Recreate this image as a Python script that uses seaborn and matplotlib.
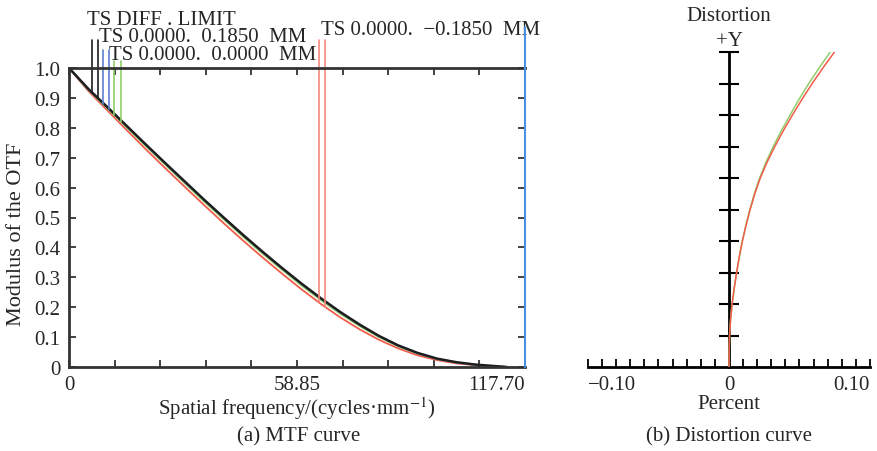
import numpy as np
import pandas as pd
import matplotlib
matplotlib.use("Agg")
import matplotlib.pyplot as plt
import seaborn as sns

# --- MTF data ---
freq = [0, 5, 10, 15, 20, 25, 30, 35, 40, 45, 50, 55, 60, 65, 70, 75, 80, 85, 90, 95, 100, 105, 110, 113]
mtf_diff = [1.0, .930, .868, .805, .742, .680, .619, .558, .499, .441, .385, .331, .279, .230, .184,
            .142, .104, .072, .047, .028, .016, .008, .003, 0]
mtf_blue = [1.0, .929, .867, .804, .741, .679, .618, .557, .498, .440, .384, .330, .278, .229, .183,
            .141, .103, .071, .046, .027, .015, .007, .002, 0]
mtf_green = [1.0, .927, .864, .800, .737, .675, .613, .552, .493, .435, .379, .325, .273, .224, .178,
             .137, .100, .069, .045, .027, .015, .007, .002, 0]
mtf_red = [1.0, .923, .857, .791, .726, .663, .601, .540, .480, .422, .366, .312, .260, .211, .166,
           .126, .091, .062, .039, .023, .012, .006, .002, 0]

x_max = 117.70
xtick_labels = ["0", "58.85", "117.70"]
ytick_labels = ["0", "0.1", "0.2", "0.3", "0.4", "0.5", "0.6", "0.7", "0.8", "0.9", "1.0"]

# label leaders (x position in cycles/mm)
leader_black = [6.0, 7.5]
leader_blue = [8.9, 10.4]
leader_green = [11.7, 13.4]
leader_red = [64.5, 66.1]

# --- Distortion data ---
field = [0, .05, .1, .15, .2, .25, .3, .35, .4, .45, .5, .55, .6, .65, .7, .75, .8, .85, .9, .95, 1.0]
dist_red = [0, .0001, .0004, .0011, .0022, .0037, .0054, .0073, .0095, .0121, .0150, .0183, .0222,
            .0270, .0325, .0385, .0450, .0518, .0590, .0667, .0748]
dist_green = [0, .0001, .0004, .0011, .0022, .0037, .0054, .0073, .0095, .0120, .0148, .0180, .0217,
              .0262, .0314, .0371, .0433, .0497, .0566, .0640, .0718]

sns.set_theme(style="white")
plt.rcParams['font.family'] = ['Liberation Serif', 'DejaVu Serif']
plt.rcParams['mathtext.fontset'] = 'stix'

col_black = '#1e1e1e'
col_blue = '#5b7fd0'
col_green = '#8fcf6a'
col_red = '#f25c4a'
col_lead_red = '#f58a7c'
fs = 15

fig = plt.figure(figsize=(8.78, 4.52), dpi=100)
ax1 = fig.add_axes([69/878, 84/452, 456/878, 299/452])
ax2 = fig.add_axes([588/878, 84/452, 282/878, 315/452])

#%% --- MTF panel ---
df = pd.DataFrame({"freq": freq, "diff": mtf_diff, "blue": mtf_blue,
                   "green": mtf_green, "red": mtf_red})
sns.lineplot(data=df, x="freq", y="red", color=col_red, lw=1.3, ax=ax1)
sns.lineplot(data=df, x="freq", y="green", color=col_green, lw=1.3, ax=ax1)
sns.lineplot(data=df, x="freq", y="blue", color=col_blue, lw=1.3, ax=ax1)
sns.lineplot(data=df, x="freq", y="diff", color=col_black, lw=1.8, ax=ax1)

# leader lines up to the labels
for xs, curve, top, c in [(leader_black, mtf_diff, 1.095, col_black),
                          (leader_blue, mtf_blue, 1.061, col_blue),
                          (leader_green, mtf_green, 1.022, col_green),
                          (leader_red, mtf_red, 1.095, col_lead_red)]:
    for xv in xs:
        ax1.plot([xv, xv], [np.interp(xv, freq, curve), top], color=c, lw=1.2, clip_on=False)

# right edge line
ax1.plot([x_max, x_max], [0, 1.137], color='#4a8fe0', lw=1.5, clip_on=False, zorder=5)

ax1.text(4.7, 1.147, "TS DIFF . LIMIT", fontsize=fs, ha='left', va='baseline')
ax1.text(7.7, 1.090, "TS 0.0000.  0.1850  MM", fontsize=fs, ha='left', va='baseline')
ax1.text(10.2, 1.030, "TS 0.0000.  0.0000  MM", fontsize=fs, ha='left', va='baseline')
ax1.text(65.0, 1.114, "TS 0.0000.  \u22120.1850  MM", fontsize=fs, ha='left', va='baseline')

ax1.set_xlim(0, x_max)
ax1.set_ylim(0, 1)
ax1.set_xticks([0, x_max / 2, x_max])
ax1.set_xticklabels(xtick_labels, fontsize=fs)
ax1.set_xticks(np.arange(1, 10) * x_max / 10, minor=True)
ax1.set_yticks(np.arange(0, 11) / 10)
ax1.set_yticklabels(ytick_labels, fontsize=fs)
ax1.tick_params(axis='x', which='both', direction='in', top=True, bottom=True,
                length=5, width=1.3, color='#333333', pad=6)
ax1.tick_params(axis='y', direction='in', left=True, right=True,
                length=5, width=1.3, color='#333333', pad=6)
ax1.get_xticklabels()[-1].set_ha('right')
ax1.set_xlabel("Spatial frequency/(cycles\u00b7mm$^{-1}$)", fontsize=fs, labelpad=0)
ax1.set_ylabel("Modulus of the OTF", fontsize=16, labelpad=4)
ax1.yaxis.set_label_coords(-0.095, 0.448)
for s in ['left', 'bottom', 'top']:
    ax1.spines[s].set_color('#333333')
    ax1.spines[s].set_linewidth(2)
ax1.spines['right'].set_visible(False)

#%% --- Distortion panel ---
dd = pd.DataFrame({"field": field, "red": dist_red, "green": dist_green})
sns.lineplot(data=dd, x="green", y="field", sort=False, estimator=None,
             color=col_green, lw=1.1, ax=ax2, zorder=3)
sns.lineplot(data=dd, x="red", y="field", sort=False, estimator=None,
             color=col_red, lw=1.1, ax=ax2, zorder=3)

ax2.set_xlim(-0.1, 0.1)
ax2.set_ylim(0, 1)
ax2.spines['left'].set_position(('data', 0))
for s in ['left', 'bottom']:
    ax2.spines[s].set_color('black')
    ax2.spines[s].set_linewidth(2)
for s in ['top', 'right']:
    ax2.spines[s].set_visible(False)
ax2.set_yticks(np.arange(1, 11) / 10)
ax2.set_yticklabels([])
ax2.tick_params(axis='y', direction='inout', left=True, length=14, width=1.5, color='black')
ax2.set_xticks([-0.1, 0, 0.1])
ax2.set_xticklabels(["\u22120.10", "0", "0.10"], fontsize=fs)
ax2.set_xticks(np.arange(-10, 11) / 100, minor=True)
ax2.tick_params(axis='x', which='both', direction='in', length=6, width=1.3,
                color='black', bottom=True, pad=6)
ax2.get_xticklabels()[0].set_ha('left')
ax2.get_xticklabels()[-1].set_ha('right')
ax2.set_xlabel("Percent", fontsize=fs, labelpad=0)
ax2.set_ylabel("")
ax2.text(0, 1.036, "+Y", fontsize=fs, ha='center', va='center', clip_on=False)
ax2.text(0, 1.116, "Distortion", fontsize=fs, ha='center', va='center', clip_on=False)

fig.text(299/878, 1 - 437/452, "(a) MTF curve", fontsize=fs, ha='center', va='center')
fig.text(729/878, 1 - 437/452, "(b) Distortion curve", fontsize=fs, ha='center', va='center')

plt.savefig("out.png", dpi=100)
